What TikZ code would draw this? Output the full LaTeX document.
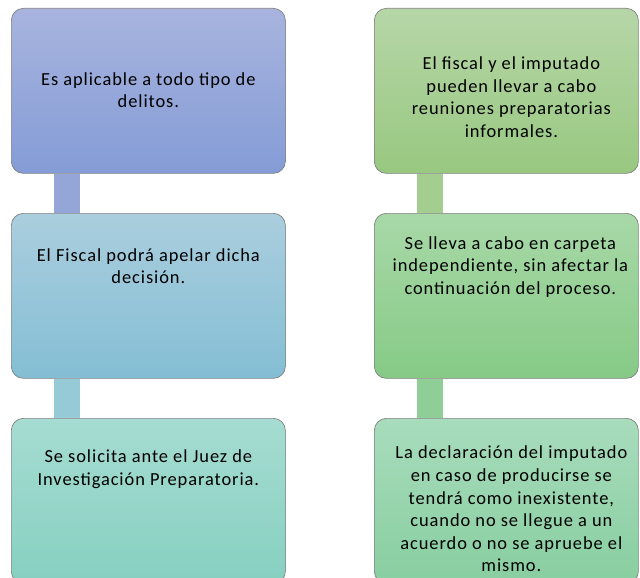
\documentclass[tikz,border=0pt]{standalone}
\usepackage{fontspec}
\setmainfont[LetterSpace=5]{Carlito}
\definecolor{Lonetop}{RGB}{168,180,222}
\definecolor{Lonebot}{RGB}{132,156,214}
\definecolor{Ltwotop}{RGB}{170,206,222}
\definecolor{Ltwobot}{RGB}{132,190,212}
\definecolor{Lthreetop}{RGB}{166,220,210}
\definecolor{Lthreebot}{RGB}{134,208,192}
\definecolor{Ronetop}{RGB}{182,214,168}
\definecolor{Ronebot}{RGB}{152,200,128}
\definecolor{Rtwotop}{RGB}{168,216,168}
\definecolor{Rtwobot}{RGB}{134,202,134}
\definecolor{Rthreetop}{RGB}{168,220,188}
\definecolor{Rthreebot}{RGB}{136,206,160}
\definecolor{Lbarone}{RGB}{148,166,216}
\definecolor{Lbartwo}{RGB}{150,202,214}
\definecolor{Rbarone}{RGB}{164,206,144}
\definecolor{Rbartwo}{RGB}{144,206,152}
\tikzset{
	box/.style={rectangle,rounded corners=12bp,draw=black!50,line width=0.7bp,
		anchor=north west,inner sep=0pt,minimum height=165bp},
	leftbox/.style={box,minimum width=274bp},
	rightbox/.style={box,minimum width=264bp},
	bar/.style={line width=26bp},
	txt/.style={align=center,inner sep=0pt,font=\fontsize{18.5}{22.7}\selectfont}
}
\begin{document}
\begin{tikzpicture}[x=1bp,y=-1bp]
		\clip (0,0) rectangle (640,578);
		% left column
		\node [leftbox,top color=Lonetop,bottom color=Lonebot] (L1) at (11,8) {};
		\node [leftbox,top color=Ltwotop,bottom color=Ltwobot] (L2) at (11,213) {};
		\node [leftbox,top color=Lthreetop,bottom color=Lthreebot] (L3) at (11,418) {};
		\draw [bar,draw=Lbarone] ([xshift=56bp]L1.south west) to ([xshift=56bp]L2.north west);
		\draw [bar,draw=Lbartwo] ([xshift=56bp]L2.south west) to ([xshift=56bp]L3.north west);
		% right column
		\node [rightbox,top color=Ronetop,bottom color=Ronebot] (R1) at (374,8) {};
		\node [rightbox,top color=Rtwotop,bottom color=Rtwobot] (R2) at (374,213) {};
		\node [rightbox,top color=Rthreetop,bottom color=Rthreebot] (R3) at (374,418) {};
		\draw [bar,draw=Rbarone] ([xshift=56bp]R1.south west) to ([xshift=56bp]R2.north west);
		\draw [bar,draw=Rbartwo] ([xshift=56bp]R2.south west) to ([xshift=56bp]R3.north west);
		% texts
		\node [txt] (t1) at ([yshift=-82bp]L1.north) {Es aplicable a todo tipo de\\delitos.};
		\node [txt] (t2) at ([yshift=-53bp]L2.north) {El Fiscal podrá apelar dicha\\decisión.};
		\node [txt] (t3) at ([yshift=-51bp]L3.north) {Se solicita ante el Juez de\\Investigación Preparatoria.};
		\node [txt] (t4) at ([xshift=5bp,yshift=-89bp]R1.north) {El fiscal y el imputado\\pueden llevar a cabo\\reuniones preparatorias\\informales.};
		\node [txt] (t5) at ([xshift=4bp,yshift=-54bp]R2.north) {Se lleva a cabo en carpeta\\independiente, sin afectar la\\continuación del proceso.};
		\node [txt] (t6) at ([xshift=5bp,yshift=-91bp]R3.north) {La declaración del imputado\\en caso de producirse se\\tendrá como inexistente,\\cuando no se llegue a un\\acuerdo o no se apruebe el\\mismo.};
	\end{tikzpicture}
\end{document}
